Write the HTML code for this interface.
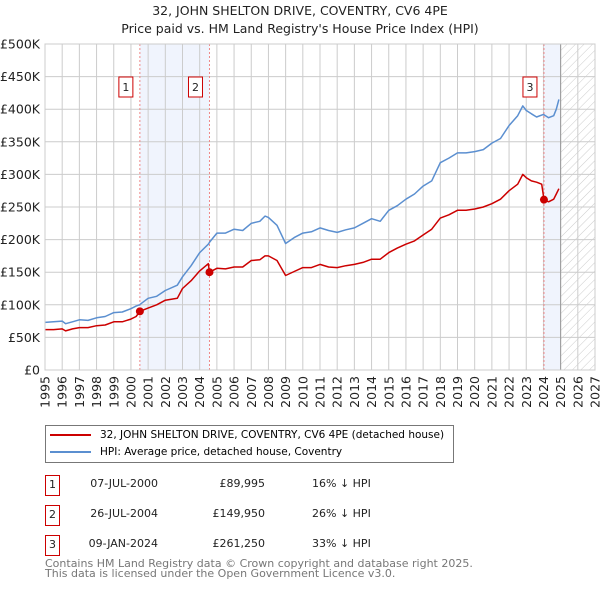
<!DOCTYPE html>
<html><head><meta charset="utf-8"><style>
body{margin:0;width:600px;height:590px;background:#fff;font-family:"DejaVu Sans","Liberation Sans",sans-serif;position:relative;overflow:hidden}
.t{position:absolute;white-space:nowrap}
</style></head><body>
<div class="t" style="left:0;width:600px;top:2px;text-align:center;font-size:12.5px;line-height:18px;color:#222">32, JOHN SHELTON DRIVE, COVENTRY, CV6 4PE<br>Price paid vs. HM Land Registry's House Price Index (HPI)</div>
<svg id="ch" width="600" height="410" style="position:absolute;left:0;top:0" font-family="DejaVu Sans, Liberation Sans, sans-serif"></svg>
<div style="position:absolute;left:45px;top:425px;width:407px;height:36px;border:1px solid #777;font-size:10.5px;white-space:nowrap">
 <div style="position:absolute;left:4px;top:3px"><span style="display:inline-block;width:41px;height:2px;background:#cc0000;vertical-align:middle;margin-right:9px"></span>32, JOHN SHELTON DRIVE, COVENTRY, CV6 4PE (detached house)</div>
 <div style="position:absolute;left:4px;top:20px"><span style="display:inline-block;width:41px;height:2px;background:#5b8fd0;vertical-align:middle;margin-right:9px"></span>HPI: Average price, detached house, Coventry</div>
</div>
<div id="tbl"></div>
<div class="t" style="left:45px;top:559px;font-size:11px;line-height:10px;color:#777">Contains HM Land Registry data © Crown copyright and database right 2025.<br>This data is licensed under the Open Government Licence v3.0.</div>
<script>
const hpiYears=[1995,1995.5,1996,1996.2,1996.6,1997,1997.5,1998,1998.5,1999,1999.5,2000,2000.3,2000.5,2001,2001.5,2002,2002.7,2003,2003.5,2004,2004.5,2004.6,2005,2005.5,2006,2006.5,2007,2007.5,2007.8,2008,2008.5,2009,2009.5,2010,2010.5,2011,2011.5,2012,2012.5,2013,2013.5,2014,2014.5,2015,2015.5,2016,2016.5,2017,2017.5,2018,2018.5,2019,2019.5,2020,2020.5,2021,2021.5,2022,2022.5,2022.8,2023,2023.3,2023.6,2024,2024.3,2024.6,2024.75,2024.9];
const hpiValues=[73,74,75,71,74,77,76,80,82,88,89,94,98,100,110,113,122,130,143,160,180,193,197,210,210,216,214,225,228,236,234,222,194,203,210,212,218,214,211,215,218,225,232,228,245,252,262,270,282,290,318,325,333,333,335,338,348,355,375,390,405,398,393,388,392,387,390,400,415];
const ppYears=[1995,1995.5,1996,1996.2,1996.6,1997,1997.5,1998,1998.5,1999,1999.5,2000,2000.3,2000.52,2001,2001.5,2002,2002.7,2003,2003.5,2004,2004.5,2004.57,2005,2005.5,2006,2006.5,2007,2007.5,2007.8,2008,2008.5,2009,2009.5,2010,2010.5,2011,2011.5,2012,2012.5,2013,2013.5,2014,2014.5,2015,2015.5,2016,2016.5,2017,2017.5,2018,2018.5,2019,2019.5,2020,2020.5,2021,2021.5,2022,2022.5,2022.8,2023,2023.3,2023.6,2023.9,2024.03,2024.3,2024.6,2024.75,2024.9];
const ppValues=[62,62,63,60,63,65,65,68,69,74,74,78,82,90,95,100,107,110,125,137,152,163,150,156,155,158,158,168,169,175,175,168,145,151,157,157,162,158,157,160,162,165,170,170,180,187,193,198,207,216,233,238,245,245,247,250,255,262,275,285,300,295,290,288,285,261,258,262,270,278];
const saleLabels=["1","2","3"];
const saleYears=[2000.52,2004.57,2024.03];
const salePrices=[89.995,149.95,261.25];
const saleDates=["07-JUL-2000","26-JUL-2004","09-JAN-2024"];
const salePriceText=["£89,995","£149,950","£261,250"];
const salePct=["16% ↓ HPI","26% ↓ HPI","33% ↓ HPI"];
const yTicks=[0,50,100,150,200,250,300,350,400,450,500];
const yTickLabels=["£0","£50K","£100K","£150K","£200K","£250K","£300K","£350K","£400K","£450K","£500K"];
const xTicks=[1995,1996,1997,1998,1999,2000,2001,2002,2003,2004,2005,2006,2007,2008,2009,2010,2011,2012,2013,2014,2015,2016,2017,2018,2019,2020,2021,2022,2023,2024,2025,2026,2027];

const X0=45,X1=595,Y0=370,Y1=44;
const xs=y=>X0+(y-1995)/(2027-1995)*(X1-X0);
const ys=v=>Y0-v/500*(Y0-Y1);
const NS="http://www.w3.org/2000/svg";
const svg=document.getElementById('ch');
function mk(tag,a,parent){const e=document.createElementNS(NS,tag);for(const k in a)e.setAttribute(k,a[k]);(parent||svg).appendChild(e);return e;}
const defs=mk('defs',{});
const pat=mk('pattern',{id:'hatch',width:6,height:6,patternUnits:'userSpaceOnUse',patternTransform:'rotate(45)'},defs);
mk('line',{x1:0,y1:0,x2:0,y2:6,stroke:'#ccc','stroke-width':1},pat);
let r=mk('rect',{x:xs(saleYears[0]),y:Y1,width:xs(saleYears[1])-xs(saleYears[0]),height:Y0-Y1,fill:'#f0f4fd'});

r=mk('rect',{x:xs(saleYears[2]),y:Y1,width:xs(2025)-xs(saleYears[2]),height:Y0-Y1,fill:'#f0f4fd'});

r=mk('rect',{x:xs(2025),y:Y1,width:X1-xs(2025),height:Y0-Y1,fill:'url(#hatch)'});

xTicks.forEach((t,i)=>{
 const l=mk('line',{x1:xs(t),x2:xs(t),y1:Y1,y2:Y0,stroke:'#ccc','stroke-width':1});
 
 const tx=mk('text',{x:0,y:0,transform:`translate(${xs(t)+4.5},${Y0+6}) rotate(-90)`,'text-anchor':'end','font-size':12.5,fill:'#222'});
 tx.textContent=t;
});
yTicks.forEach((t,i)=>{
 const l=mk('line',{x1:X0,x2:X1,y1:ys(t),y2:ys(t),stroke:'#ccc','stroke-width':1});
 
 const tx=mk('text',{x:X0-5,y:ys(t)+4.5,'text-anchor':'end','font-size':12.5,fill:'#222'});
 tx.textContent=yTickLabels[i];
});
let b=mk('line',{x1:xs(2025),x2:xs(2025),y1:Y1,y2:Y0,stroke:'#999','stroke-width':1});

saleYears.forEach((s,i)=>{
 const l=mk('line',{x1:xs(s),x2:xs(s),y1:Y1,y2:Y0,stroke:'#e88','stroke-width':1,'stroke-dasharray':'2,2'});
 
});
function path(xv,yv,c,name){
 const d=xv.map((x,i)=>(i?'L':'M')+xs(x).toFixed(1)+','+ys(yv[i]).toFixed(1)).join('');
 const p=mk('path',{d,fill:'none',stroke:c,'stroke-width':1.5,'stroke-linejoin':'round'});
 
}
path(hpiYears,hpiValues,'#5b8fd0','hpi-line');
path(ppYears,ppValues,'#cc0000','price-paid-line');
saleYears.forEach((s,i)=>{
 const c=mk('circle',{cx:xs(s),cy:ys(salePrices[i]),r:4,fill:'#cc0000'});
 
 const g=mk('g',{});
 
 mk('rect',{x:xs(s)-21,y:77,width:14,height:20,fill:'#fff',stroke:'#cc0000','stroke-width':1},g);
 const t=mk('text',{x:xs(s)-14,y:91,'text-anchor':'middle','font-size':11,fill:'#222'},g);t.textContent=saleLabels[i];
});
let fr=mk('rect',{x:X0,y:Y1,width:X1-X0,height:Y0-Y1,fill:'none',stroke:'#ccc','stroke-width':1});

const tbl=document.getElementById('tbl');
saleLabels.forEach((s,i)=>{
 const top=475+i*30;
 const row=document.createElement('div');
 
 
 row.style.cssText=`position:absolute;left:0;top:${top}px;width:600px;height:20px;font-size:11px;color:#222`;
 row.innerHTML=`<div style="position:absolute;left:45px;top:0;width:13px;height:19px;border:1px solid #cc0000;text-align:center;line-height:17px">${s}</div>
 <div style="position:absolute;right:442px;top:2px">${saleDates[i]}</div>
 <div style="position:absolute;right:335px;top:2px">${salePriceText[i]}</div>
 <div style="position:absolute;left:312px;top:2px">${salePct[i]}</div>`;
 tbl.appendChild(row);
});
</script>
</body></html>
